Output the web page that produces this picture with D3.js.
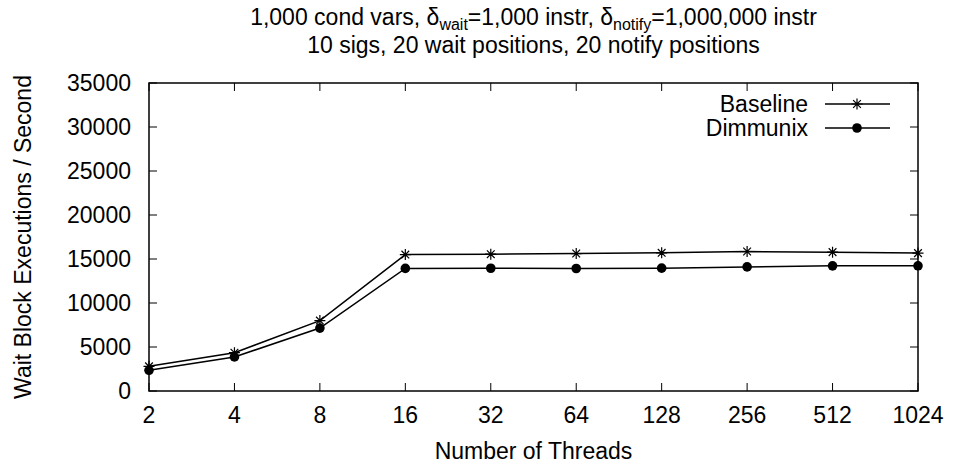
<!DOCTYPE html>
<html>
<head>
<meta charset="utf-8">
<script src="https://cdn.jsdelivr.net/npm/d3@7"></script>
<style>
  body { margin: 0; background: #fff; }
  svg { display: block; font-family: 'Liberation Sans', Arial, sans-serif; }
  .tick-label, .label, .title, .legend { font-size: 23px; fill: #000; }
</style>
</head>
<body>
<svg width="954" height="463"></svg>
<script>
const threads = [2, 4, 8, 16, 32, 64, 128, 256, 512, 1024];
const baseline = [2800, 4350, 8000, 15500, 15550, 15620, 15700, 15850, 15780, 15670];
const dimmunix = [2350, 3870, 7150, 13930, 13950, 13920, 13960, 14100, 14220, 14230];
const yTicks = [0, 5000, 10000, 15000, 20000, 25000, 30000, 35000];

const svg = d3.select('svg');
const plotL = 149, plotR = 918, plotT = 83, plotB = 391;

const x = d3.scaleLog().base(2)
  .domain([2, 1024])
  .range([plotL, plotR]);

const y = d3.scaleLinear()
  .domain([0, 35000])
  .range([plotB, plotT]);

const tickLen = 8;

// border box
svg.append('rect')
  .attr('x', plotL).attr('y', plotT)
  .attr('width', plotR - plotL).attr('height', plotB - plotT)
  .attr('fill', 'none').attr('stroke', '#000').attr('stroke-width', 1.5);

// x ticks (bottom + mirrored top)
const xt = svg.append('g').attr('stroke', '#000').attr('stroke-width', 1);
threads.forEach(t => {
  xt.append('line').attr('x1', x(t)).attr('x2', x(t)).attr('y1', plotB).attr('y2', plotB - tickLen);
  xt.append('line').attr('x1', x(t)).attr('x2', x(t)).attr('y1', plotT).attr('y2', plotT + tickLen);
});
svg.append('g').selectAll('text')
  .data(threads)
  .enter().append('text')
  .attr('class', 'tick-label')
  .attr('x', d => x(d))
  .attr('y', 423)
  .attr('text-anchor', 'middle')
  .text(d => d);

// y ticks (left + mirrored right)
const yt = svg.append('g').attr('stroke', '#000').attr('stroke-width', 1);
yTicks.forEach(v => {
  yt.append('line').attr('x1', plotL).attr('x2', plotL + tickLen).attr('y1', y(v)).attr('y2', y(v));
  yt.append('line').attr('x1', plotR).attr('x2', plotR - tickLen).attr('y1', y(v)).attr('y2', y(v));
});
svg.append('g').selectAll('text')
  .data(yTicks)
  .enter().append('text')
  .attr('class', 'tick-label')
  .attr('x', 131)
  .attr('y', d => y(d) + 8)
  .attr('text-anchor', 'end')
  .text(d => d);

// axis labels
svg.append('text')
  .attr('class', 'label')
  .attr('x', (plotL + plotR) / 2)
  .attr('y', 459)
  .attr('text-anchor', 'middle')
  .text('Number of Threads');

svg.append('text')
  .attr('class', 'label')
  .attr('transform', `translate(31, ${(plotT + plotB) / 2}) rotate(-90)`)
  .attr('text-anchor', 'middle')
  .text('Wait Block Executions / Second');

// title
const t1 = svg.append('text')
  .attr('class', 'title')
  .attr('x', (plotL + plotR) / 2)
  .attr('y', 25)
  .attr('text-anchor', 'middle');
t1.append('tspan').text('1,000 cond vars, δ');
t1.append('tspan').attr('dy', 5).style('font-size', '16px').text('wait');
t1.append('tspan').attr('dy', -5).text('=1,000 instr, δ');
t1.append('tspan').attr('dy', 5).style('font-size', '16px').text('notify');
t1.append('tspan').attr('dy', -5).text('=1,000,000 instr');

svg.append('text')
  .attr('class', 'title')
  .attr('x', (plotL + plotR) / 2)
  .attr('y', 53)
  .attr('text-anchor', 'middle')
  .text('10 sigs, 20 wait positions, 20 notify positions');

// series
const line = d3.line()
  .x((d, i) => x(threads[i]))
  .y(d => y(d));

const star = (g, cx, cy) => {
  const r = 5.5;
  g.append('path')
    .attr('d', `M${cx - r},${cy}H${cx + r}M${cx - r * 0.7},${cy - r * 0.7}L${cx + r * 0.7},${cy + r * 0.7}M${cx - r * 0.7},${cy + r * 0.7}L${cx + r * 0.7},${cy - r * 0.7}M${cx},${cy - r}V${cy + r}`)
    .attr('stroke', '#000').attr('stroke-width', 1.2).attr('fill', 'none');
};
const dot = (g, cx, cy) => {
  g.append('circle').attr('cx', cx).attr('cy', cy).attr('r', 4.8).attr('fill', '#000');
};

const series = [
  {name: 'Baseline', values: baseline, mark: star},
  {name: 'Dimmunix', values: dimmunix, mark: dot}
];

series.forEach((s, k) => {
  const g = svg.append('g');
  g.append('path')
    .attr('d', line(s.values))
    .attr('fill', 'none')
    .attr('stroke', '#000')
    .attr('stroke-width', 1.5);
  s.values.forEach((v, i) => s.mark(g, x(threads[i]), y(v)));

  // legend
  const ly = 104 + k * 24;
  svg.append('text')
    .attr('class', 'legend')
    .attr('x', 808)
    .attr('y', ly + 8)
    .attr('text-anchor', 'end')
    .text(s.name);
  g.append('line')
    .attr('x1', 825).attr('x2', 890)
    .attr('y1', ly).attr('y2', ly)
    .attr('stroke', '#000').attr('stroke-width', 1.5);
  s.mark(g, 857, ly);
});
</script>
</body>
</html>
